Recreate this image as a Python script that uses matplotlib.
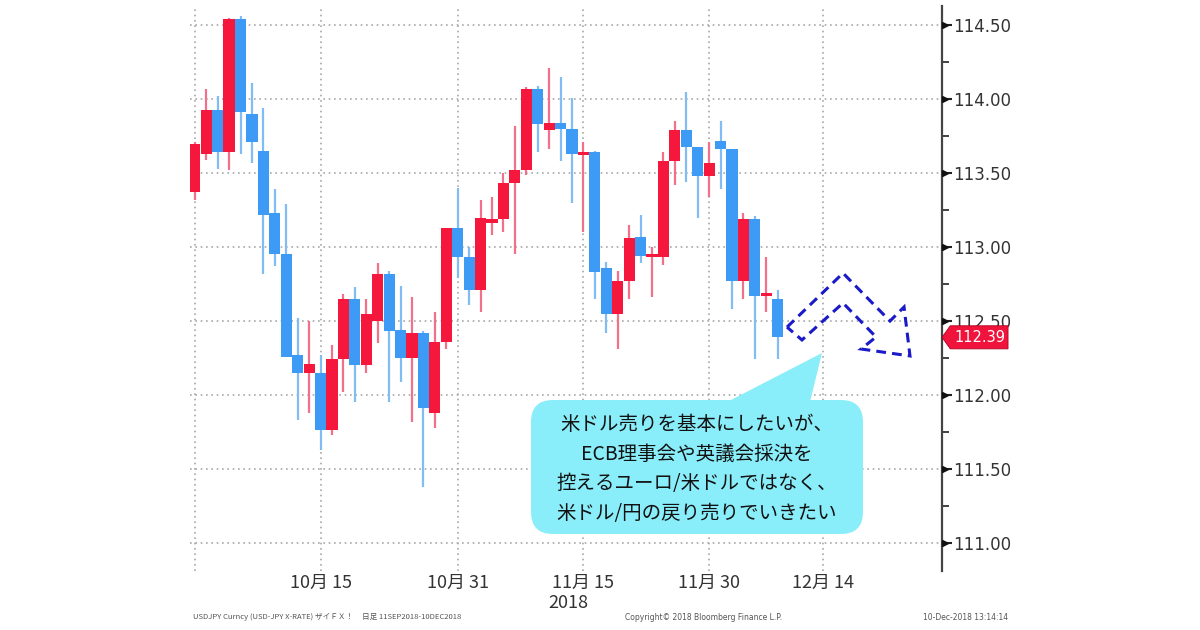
import pandas as pd
import matplotlib
matplotlib.use("Agg")
import matplotlib.pyplot as plt
from matplotlib.patches import Polygon, FancyBboxPatch
from matplotlib.transforms import Affine2D, blended_transform_factory

plt.rcParams["font.family"] = ["Noto Sans CJK JP", "DejaVu Sans"]

# USDJPY daily candles, 28 Sep 2018 - 10 Dec 2018
dates = pd.bdate_range("2018-09-28", "2018-12-10")
opens = [113.37, 113.63, 113.93, 113.64, 114.54, 113.90, 113.65, 113.23, 112.95, 112.27,
         112.15, 112.15, 111.76, 112.24, 112.65, 112.20, 112.50, 112.82, 112.44, 112.25,
         112.42, 111.88, 112.36, 113.13, 112.93, 112.71, 113.16, 113.19, 113.43, 113.52,
         114.07, 113.79, 113.84, 113.80, 113.62, 113.64, 112.86, 112.55, 112.77, 113.07,
         112.93, 112.93, 113.58, 113.79, 113.68, 113.48, 113.72, 113.66, 112.77, 113.19,
         112.67, 112.65]
highs = [113.71, 114.07, 114.02, 114.55, 114.56, 114.11, 113.94, 113.39, 113.29, 112.52,
         112.50, 112.27, 112.34, 112.68, 112.73, 112.65, 112.89, 112.84, 112.74, 112.66,
         112.43, 112.56, 113.13, 113.40, 113.00, 113.32, 113.34, 113.50, 113.82, 114.08,
         114.09, 114.21, 114.15, 114.01, 113.71, 113.65, 112.90, 112.84, 113.15, 113.22,
         113.00, 113.64, 113.85, 114.05, 113.68, 113.71, 113.85, 113.66, 113.23, 113.21,
         112.93, 112.71]
lows = [113.32, 113.59, 113.53, 113.52, 113.63, 113.57, 112.82, 112.87, 112.26, 111.83,
        111.88, 111.63, 111.73, 112.02, 111.95, 112.15, 112.35, 111.95, 112.09, 111.82,
        111.38, 111.78, 112.31, 112.79, 112.61, 112.56, 113.08, 113.10, 112.95, 113.49,
        113.64, 113.66, 113.58, 113.30, 113.10, 112.65, 112.42, 112.31, 112.65, 112.89,
        112.66, 112.88, 113.42, 113.44, 113.20, 113.34, 113.39, 112.58, 112.65, 112.24,
        112.56, 112.24]
closes = [113.70, 113.93, 113.64, 114.54, 113.91, 113.71, 113.22, 112.95, 112.26, 112.15,
          112.21, 111.76, 112.24, 112.65, 112.20, 112.55, 112.82, 112.43, 112.25, 112.42,
          111.91, 112.36, 113.13, 112.93, 112.71, 113.20, 113.19, 113.43, 113.52, 114.07,
          113.83, 113.84, 113.80, 113.63, 113.64, 112.83, 112.55, 112.77, 113.06, 112.94,
          112.95, 113.58, 113.79, 113.68, 113.48, 113.57, 113.66, 112.77, 113.19, 112.67,
          112.69, 112.39]

tick_dates = ["2018-10-15", "2018-10-31", "2018-11-15", "2018-11-30", "2018-12-14"]
tick_labels = ["10月 15", "10月 31", "11月 15", "11月 30", "12月 14"]
y_ticks = [111.0, 111.5, 112.0, 112.5, 113.0, 113.5, 114.0, 114.5]

callout_lines = ["米ドル売りを基本にしたいが、",
                 "ECB理事会や英議会採決を",
                 "控えるユーロ/米ドルではなく、",
                 "米ドル/円の戻り売りでいきたい"]

footer_left = "USDJPY Curncy (USD-JPY X-RATE) ザイＦＸ！"
footer_range = "日足 11SEP2018-10DEC2018"
footer_copy = "Copyright© 2018 Bloomberg Finance L.P."
footer_time = "10-Dec-2018 13:14:14"

RED = "#f5173c"
BLUE = "#3d9bf5"
RED_WICK = "#f2708a"
BLUE_WICK = "#80bdf5"

fig = plt.figure(figsize=(12, 6.3), dpi=100)
ax = fig.add_axes([190 / 1200, 1 - 571 / 630, 752 / 1200, 565 / 630])
# pixel coords from the top-left corner, for the annotations
px = Affine2D().scale(1 / 1200, -1 / 630).translate(0, 1) + fig.transFigure

# trading-day axis running past the last candle
axis_days = pd.bdate_range("2018-09-28", "2018-12-31")
x = [axis_days.get_loc(d) for d in dates]

up = [c >= o for o, c in zip(opens, closes)]
body_col = [RED if u else BLUE for u in up]
wick_col = [RED_WICK if u else BLUE_WICK for u in up]

ax.vlines(x, lows, highs, colors=wick_col, linewidth=1.6, zorder=2)
bottoms = [min(o, c) for o, c in zip(opens, closes)]
heights = [max(abs(c - o), 0.02) for o, c in zip(opens, closes)]
ax.bar(x, heights, bottom=bottoms, width=0.98, color=body_col, linewidth=0, zorder=3)

ax.set_xlim(-0.42, 65.37)
ax.set_ylim(110.81, 114.63)

# grid
grid_kw = dict(color="#a8a8a8", linewidth=1.2, linestyle=(0, (1, 2.2)), zorder=1)
tick_pos = [axis_days.get_loc(pd.Timestamp(d)) for d in tick_dates]
for xp in [0] + tick_pos:
    ax.axvline(xp, **grid_kw)
for yv in y_ticks:
    ax.axhline(yv, **grid_kw)

ax.set_xticks(tick_pos)
ax.set_xticklabels(tick_labels, fontsize=13, color="#333333")
ax.tick_params(axis="x", length=0, pad=2)
fig.text(568, 603, "2018", transform=px, ha="center", va="center",
         fontsize=13, color="#333333")

ax.yaxis.tick_right()
ax.set_yticks(y_ticks)
ax.set_yticklabels([f"{v:.2f}" for v in y_ticks], fontsize=12, color="#333333",
                   family="DejaVu Sans")
ax.set_yticks([v + 0.25 for v in y_ticks[:-1]], minor=True)
ax.tick_params(axis="y", which="major", length=7, width=1.5, color="#222222", pad=1)
ax.tick_params(axis="y", which="minor", length=5, width=1.2, color="#222222")
bt = blended_transform_factory(ax.transAxes, ax.transData)
ax.plot([1.004] * len(y_ticks), y_ticks, ">", color="#111111", markersize=5,
        transform=bt, clip_on=False, zorder=5)

for s in ["left", "top", "bottom"]:
    ax.spines[s].set_visible(False)
ax.spines["right"].set_color("#444444")
ax.spines["right"].set_linewidth(1.6)

# last price tag
last = closes[-1]
h = 0.078
tag = Polygon([(1.0, last), (1.011, last + h), (1.0878, last + h),
               (1.0878, last - h), (1.011, last - h)],
              closed=True, transform=bt, facecolor="#f0143c", edgecolor="#b00020",
              linewidth=0.6, clip_on=False, zorder=6)
ax.add_patch(tag)
ax.text(1.05, last, f"{last:.2f}", transform=bt, ha="center", va="center",
        fontsize=10.5, color="white", family="DejaVu Sans", zorder=7, clip_on=False)

# dashed zigzag arrow
arrow = [(51.81, 112.459), (56.71, 112.824), (60.82, 112.500), (62.05, 112.595),
         (62.57, 112.264), (58.29, 112.311), (59.60, 112.392), (56.71, 112.622),
         (53.12, 112.372)]
ax.add_patch(Polygon(arrow, closed=True, fill=False, edgecolor="#1a1ac8",
                     linewidth=2.2, linestyle=(0, (3.2, 2.0)), zorder=6))

# callout bubble
CYAN = "#8aeefa"
fig.add_artist(FancyBboxPatch((531, 400), 332, 134,
                              boxstyle="round,pad=0,rounding_size=22",
                              transform=px, facecolor=CYAN, edgecolor="none", zorder=8))
fig.add_artist(Polygon([(727, 402), (810, 402), (822, 353)], closed=True,
                       transform=px, facecolor=CYAN, edgecolor="none", zorder=8))
for i, line in enumerate(callout_lines):
    fig.text(697, 424 + i * 30, line, transform=px, ha="center", va="center",
             fontsize=14, color="#111111", zorder=9)

# footer
cjk = ["Noto Sans CJK JP", "DejaVu Sans"]
foot_kw = dict(transform=px, fontsize=5.5, color="#555555", va="center")
fig.text(193, 617, footer_left, family=cjk, **foot_kw)
fig.text(362, 617, footer_range, family=cjk, **foot_kw)
fig.text(625, 617, footer_copy, family="DejaVu Sans", **foot_kw)
fig.text(1008, 617, footer_time, ha="right", family="DejaVu Sans", **foot_kw)

fig.savefig("out.png", dpi=100, facecolor="white")
